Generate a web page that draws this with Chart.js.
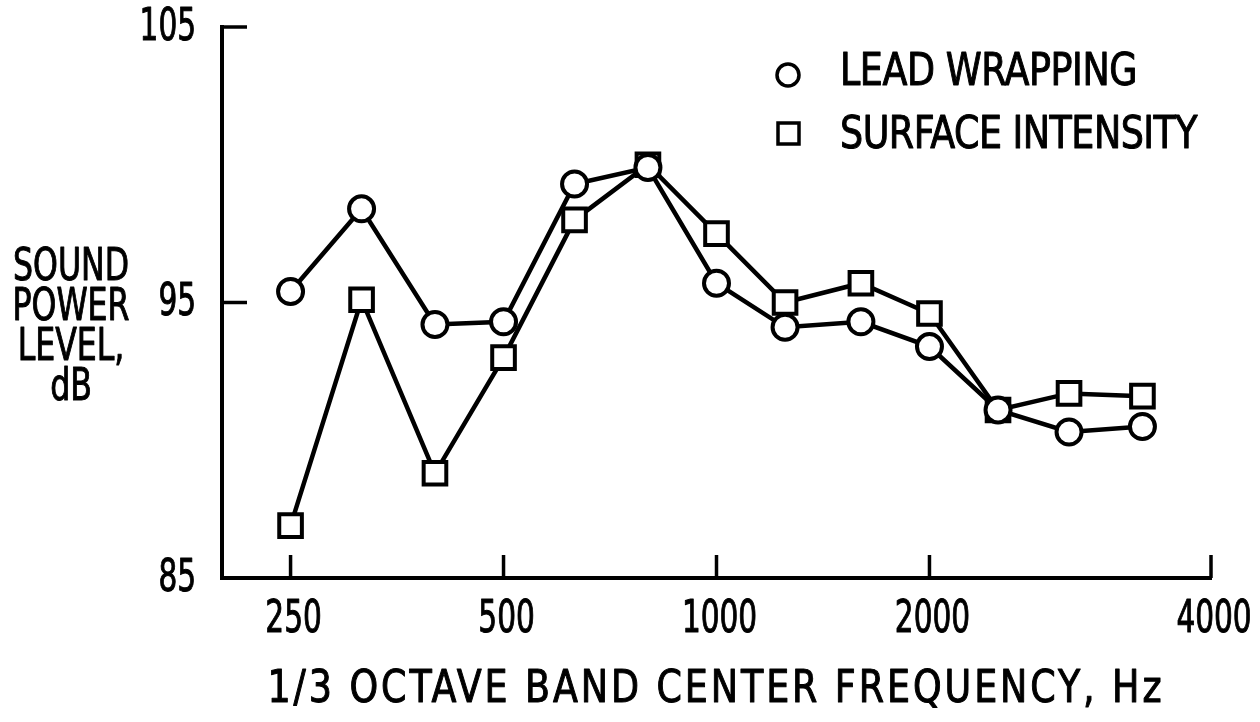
<!DOCTYPE html>
<html>
<head>
<meta charset="utf-8">
<script src="https://cdn.jsdelivr.net/npm/chart.js@4.4.1/dist/chart.umd.min.js"></script>
<style>
  html, body { margin: 0; padding: 0; background: #fff; }
  #wrap { width: 1260px; height: 722px; position: relative; }
</style>
</head>
<body>
<div id="wrap"><canvas id="c" width="1260" height="722"></canvas></div>
<script>
// 1/3 octave band centres, Hz
const bands = [250, 315, 400, 500, 630, 800, 1000, 1250, 1600, 2000, 2500, 3150, 4000];
// sound power level, dB
const leadWrapping = [95.4, 98.4, 94.2, 94.3, 99.3, 99.9, 95.7, 94.1, 94.3, 93.4, 91.1, 90.3, 90.5];
const surfaceIntensity = [86.9, 95.1, 88.8, 93.0, 98.0, 100.0, 97.5, 95.0, 95.7, 94.6, 91.1, 91.7, 91.6];

const yTicks = [85, 95, 105];
// the original figure puts its "4000" label on the tick at the end of the axis
const xTicks = [250, 500, 1000, 2000, 5000];
const xTickLabels = ['250', '500', '1000', '2000', '4000'];

const FONT = "'DejaVu Sans Condensed', 'DejaVu Sans', sans-serif";
const ink = '#000';

function pts(vals) {
  return bands.map((f, i) => ({ x: f, y: vals[i] }));
}

// lettering on the original is narrow and heavy: squeeze it sideways and thicken it
function say(ctx, text, x, y, align, sx, width) {
  ctx.save();
  ctx.font = '45px ' + FONT;
  ctx.textBaseline = 'middle';
  ctx.textAlign = 'left';
  let w = ctx.measureText(text).width;
  if (width) {
    // spread the letters out until the line is as long as on the original
    const ls = (width / sx - w) / text.length;
    ctx.letterSpacing = ls + 'px';
    w = ctx.measureText(text).width;
  }
  const full = w * sx;
  let left = x;
  if (align === 'center') left = x - full / 2;
  if (align === 'right') left = x - full;
  ctx.translate(left, y);
  ctx.scale(sx, 1);
  ctx.fillStyle = ink;
  ctx.strokeStyle = ink;
  ctx.lineWidth = 1;
  ctx.lineJoin = 'round';
  ctx.fillText(text, 0, 0);
  ctx.strokeText(text, 0, 0);
  ctx.restore();
}

const decor = {
  id: 'decor',
  afterDraw(chart) {
    const { ctx, chartArea: a, scales } = chart;
    ctx.save();
    ctx.strokeStyle = ink;
    ctx.fillStyle = ink;
    ctx.lineWidth = 3.5;
    // tick marks point inwards
    xTicks.forEach((v, i) => {
      const px = scales.x.getPixelForValue(v);
      ctx.beginPath();
      ctx.moveTo(px, a.bottom);
      ctx.lineTo(px, a.bottom - 23);
      ctx.stroke();
      say(ctx, xTickLabels[i], px + 3, a.bottom + 42, 'center', 0.73);
    });
    yTicks.forEach(v => {
      const py = scales.y.getPixelForValue(v);
      if (v !== yTicks[0]) {
        ctx.beginPath();
        ctx.moveTo(a.left, py);
        ctx.lineTo(a.left + 25, py);
        ctx.stroke();
      }
      say(ctx, String(v), a.left - 26, py + 1, 'right', 0.73);
    });

    ['SOUND', 'POWER', 'LEVEL,', 'dB'].forEach((s, i) => say(ctx, s, 71, 268 + i * 40, 'center', 0.78));
    say(ctx, '1/3 OCTAVE BAND CENTER FREQUENCY, Hz', 716, 690, 'center', 0.9, 897);

    // legend
    ctx.lineWidth = 3.5;
    ctx.beginPath();
    ctx.arc(788, 75, 11, 0, Math.PI * 2);
    ctx.stroke();
    ctx.strokeRect(778, 123, 21, 21);
    say(ctx, 'LEAD WRAPPING', 840, 73, 'left', 0.9, 297);
    say(ctx, 'SURFACE INTENSITY', 840, 136, 'left', 0.9, 357);
    ctx.restore();
  }
};

new Chart(document.getElementById('c'), {
  type: 'line',
  data: {
    datasets: [
      {
        label: 'LEAD WRAPPING',
        data: pts(leadWrapping),
        pointStyle: 'circle',
        pointRadius: 12.5,
        pointBorderWidth: 4,
        pointBackgroundColor: '#fff',
        pointBorderColor: ink,
        borderColor: ink,
        borderWidth: 4.5,
        tension: 0
      },
      {
        label: 'SURFACE INTENSITY',
        data: pts(surfaceIntensity),
        pointStyle: 'rect',
        pointRadius: 16,
        pointBorderWidth: 4,
        pointBackgroundColor: '#fff',
        pointBorderColor: ink,
        borderColor: ink,
        borderWidth: 4.5,
        tension: 0
      }
    ]
  },
  options: {
    responsive: false,
    animation: false,
    events: [],
    layout: { padding: { left: 0, top: 27, right: 49, bottom: 0 } },
    plugins: { legend: { display: false }, tooltip: { enabled: false } },
    scales: {
      x: {
        type: 'logarithmic',
        min: 200,
        max: 5000,
        afterFit: ax => { ax.height = 144; },
        grid: { display: false },
        border: { display: true, color: ink, width: 4 },
        ticks: { display: false }
      },
      y: {
        type: 'linear',
        min: 85,
        max: 105,
        afterFit: ax => { ax.width = 222; },
        grid: { display: false },
        border: { display: true, color: ink, width: 4 },
        ticks: { display: false }
      }
    }
  },
  plugins: [decor]
});
</script>
</body>
</html>
